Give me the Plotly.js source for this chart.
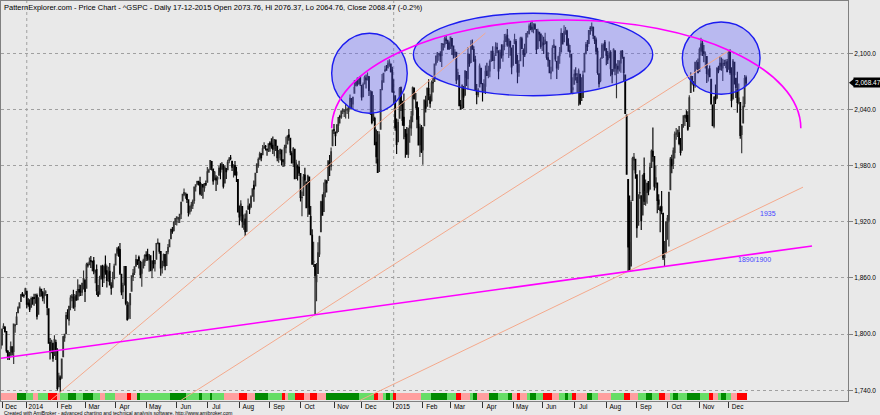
<!DOCTYPE html>
<html><head><meta charset="utf-8">
<script src="https://cdn.plot.ly/plotly-3.0.1.min.js"></script>
<style>html,body{margin:0;padding:0;background:#e9e9e9}#chart{width:880px;height:415px}</style>
</head><body><div id="chart"></div>
<script>
// ---------- DATA ----------
const monthLabels = ['Dec','2014','Feb','Mar','Apr','May','Jun','Jul','Aug','Sep','Oct','Nov','Dec','2015','Feb','Mar','Apr','May','Jun','Jul','Aug','Sep','Oct','Nov','Dec'];
const monthBars   = [21,21,19,21,21,21,21,22,21,21,23,19,22,20,19,22,21,20,22,22,21,21,22,20,13];

const open = [
1806.55,1800.10,1794.08,1792.82,1788.36,1806.21,1807.60,1802.76,1781.71,1776.02,1777.48,1786.47,1781.46,1809.00,1810.39,1822.92,1828.02,1834.96,1842.97,1841.47,1842.61,
1845.86,1833.21,1832.31,1828.71,1837.90,1839.00,1840.06,1841.26,1821.36,1840.52,1847.99,1844.23,1841.05,1844.71,1842.29,1826.96,1791.03,1783.00,1790.15,1777.17,1790.88,
1782.68,1743.82,1753.38,1752.99,1776.01,1796.20,1800.45,1820.12,1814.82,1828.46,1839.03,1838.90,1829.24,1841.07,1836.78,1847.66,1845.79,1844.90,1855.12,
1857.68,1849.23,1874.05,1874.18,1878.52,1877.86,1878.26,1866.15,1869.06,1845.07,1842.81,1858.92,1872.25,1860.09,1874.53,1867.67,1859.48,1867.09,1852.11,1850.07,1859.16,
1873.96,1886.61,1891.43,1890.25,1863.92,1845.48,1852.64,1872.28,1830.65,1818.18,1831.45,1846.01,1861.73,1865.79,1872.57,1879.32,1881.97,1877.72,1865.00,1870.78,1877.10,
1884.39,1885.30,1879.45,1883.69,1868.53,1877.39,1875.27,1880.03,1896.75,1897.13,1888.16,1871.19,1876.66,1884.88,1873.34,1888.19,1893.32,1902.01,1911.77,1910.60,1920.33,
1923.87,1923.07,1923.06,1928.52,1942.41,1948.97,1950.34,1949.37,1943.35,1930.80,1934.84,1937.15,1942.73,1957.50,1960.45,1962.92,1961.97,1949.27,1959.89,1956.56,1960.79,
1962.29,1973.06,1975.88,1984.22,1976.39,1965.10,1966.67,1965.76,1969.86,1977.36,1976.35,1979.75,1961.54,1976.93,1975.65,1985.32,1988.07,1984.60,1978.25,1980.03,1973.21,1965.14,
1929.80,1926.62,1936.34,1917.29,1923.03,1910.35,1933.43,1935.73,1935.60,1947.41,1958.87,1958.36,1972.73,1980.46,1986.82,1992.60,1991.74,1998.59,2000.54,1997.42,1998.45,
2004.07,2003.57,2001.67,1998.00,2007.17,2000.73,1988.41,1992.85,1996.74,1986.04,1981.93,1999.30,2003.07,2012.74,2009.08,1992.78,1983.34,1997.32,1966.22,1978.96,1978.21,
1971.44,1945.83,1948.12,1970.01,1962.36,1935.55,1967.68,1925.63,1905.65,1877.11,1874.18,1855.95,1864.91,1885.62,1909.38,1941.29,1931.02,1951.59,1962.97,1964.14,1983.29,1979.49,2001.20,
2018.21,2015.81,2015.29,2023.33,2032.36,2032.01,2038.20,2037.75,2039.21,2039.74,2038.29,2041.48,2051.16,2045.87,2057.46,2065.07,2070.15,2067.36,2074.78,
2065.78,2053.77,2067.45,2073.64,2072.78,2074.84,2056.55,2058.86,2027.92,2030.36,2005.03,1986.71,1973.77,2018.98,2061.04,2069.28,2081.48,2083.25,2084.30,2087.63,2088.49,2082.11,
2058.90,2054.44,2022.15,2005.55,2030.61,2063.45,2046.13,2031.58,2018.40,2013.75,1992.25,2020.76,2020.19,2034.30,2062.98,2050.42,2047.86,2032.34,2002.45,2019.35,
1996.67,2022.71,2048.86,2043.45,2062.28,2053.47,2049.38,2068.55,2069.98,2088.78,2096.47,2099.16,2099.25,2097.65,2109.83,2109.10,2115.30,2113.91,2110.88,
2105.23,2115.76,2107.72,2098.54,2100.91,2072.25,2076.14,2044.69,2041.10,2064.56,2055.35,2080.59,2072.84,2098.69,2090.32,2107.99,2103.94,2093.10,2059.94,2055.78,2064.11,2084.05,
2067.63,2060.03,2064.87,2080.79,2076.94,2081.29,2091.51,2102.03,2092.28,2097.82,2105.96,2102.58,2084.11,2102.82,2098.27,2107.21,2112.80,2119.29,2108.35,2112.49,2105.52,
2087.38,2110.23,2112.63,2091.26,2079.96,2092.13,2115.56,2102.87,2099.62,2100.43,2122.07,2121.30,2129.45,2127.79,2125.55,2130.36,2125.34,2105.13,2122.27,2120.66,
2108.64,2110.41,2110.64,2112.35,2095.09,2092.34,2079.07,2081.12,2106.24,2107.43,2091.34,2084.26,2097.40,2101.58,2121.06,2112.50,2123.16,2123.65,2109.96,2102.62,2098.63,2061.19,
2067.00,2078.03,2073.95,2069.52,2077.66,2049.73,2052.74,2080.03,2099.72,2109.25,2110.55,2126.80,2126.85,2127.55,2118.21,2114.16,2102.24,2078.19,2070.75,2094.70,2106.78,2111.60,
2104.49,2097.68,2095.27,2100.75,2082.61,2080.98,2102.66,2081.10,2086.19,2083.15,2089.70,2101.99,2095.69,2076.61,2034.08,1965.15,1898.08,1872.75,1942.77,1986.06,1986.73,
1970.09,1916.52,1950.79,1947.76,1927.30,1971.45,1941.59,1951.45,1963.06,1955.10,1978.02,1995.33,1989.66,1960.84,1961.39,1943.24,1934.81,1935.93,1929.18,1881.90,1887.14,
1919.65,1921.77,1954.33,1986.63,1982.34,1994.01,2013.73,2015.65,2015.00,2003.66,1996.47,2024.37,2031.73,2033.13,2033.47,2021.88,2058.19,2075.08,2068.75,2066.48,2088.35,2090.00,
2080.76,2102.63,2110.60,2101.68,2098.60,2096.56,2077.19,2083.41,2072.29,2044.64,2022.08,2053.67,2051.99,2083.70,2082.82,2089.41,2084.42,2089.30,2088.82,2090.95,
2082.93,2101.71,2080.71,2051.24,2090.42,2073.39,2061.17,2047.93,2047.27,2013.37,2025.55,2046.50,2073.76];

const high = [
1810.02,1800.10,1799.80,1792.82,1806.04,1811.52,1808.52,1802.97,1782.99,1780.92,1792.22,1786.77,1811.08,1810.88,1823.75,1829.75,1833.32,1842.84,1844.89,1842.47,1849.44,
1845.86,1838.24,1837.16,1840.10,1840.02,1843.23,1843.15,1843.45,1839.26,1850.84,1847.99,1846.04,1849.31,1846.87,1842.29,1826.96,1795.98,1793.87,1790.15,1798.77,1793.88,
1784.83,1758.73,1755.79,1774.06,1798.03,1799.94,1823.54,1826.55,1830.25,1841.65,1842.87,1847.50,1842.79,1846.13,1858.71,1852.91,1852.65,1854.53,1867.92,
1857.68,1876.23,1876.53,1881.94,1883.57,1877.87,1882.35,1868.38,1874.40,1852.44,1862.30,1873.76,1874.14,1873.49,1883.97,1873.34,1871.87,1875.92,1855.55,1866.63,1875.18,
1885.84,1893.17,1893.80,1897.28,1864.04,1854.95,1872.43,1872.53,1835.07,1834.19,1844.02,1862.31,1869.63,1871.89,1884.89,1879.75,1884.06,1877.72,1877.01,1880.60,1885.20,
1888.59,1891.33,1885.51,1883.69,1878.83,1889.07,1878.57,1897.13,1902.17,1897.13,1888.16,1878.28,1886.00,1884.88,1888.80,1896.33,1901.26,1912.28,1914.46,1920.03,1924.03,
1925.88,1925.07,1928.63,1941.74,1949.44,1955.55,1950.86,1949.37,1943.35,1937.30,1941.15,1943.69,1957.74,1959.87,1963.91,1963.74,1968.17,1960.83,1959.89,1961.47,1964.24,
1978.58,1976.67,1985.59,1984.22,1976.39,1974.15,1969.84,1968.67,1979.85,1982.52,1983.94,1981.80,1979.91,1976.93,1986.24,1989.23,1991.39,1984.60,1981.52,1984.85,1978.90,1965.14,
1937.35,1942.92,1936.34,1927.91,1928.89,1932.38,1944.90,1939.65,1948.41,1955.23,1964.04,1971.99,1982.57,1988.57,1994.76,1993.54,2001.95,2005.04,2002.14,1998.55,2003.38,
2006.12,2009.28,2011.17,2007.71,2007.17,2001.01,1996.66,1997.65,1996.74,1987.18,2002.28,2010.74,2012.34,2019.26,2009.08,1995.41,1999.79,1997.32,1986.37,1981.28,1985.17,
1971.44,1952.32,1971.19,1977.84,1962.36,1970.36,1967.68,1936.98,1912.09,1898.71,1874.18,1876.01,1898.16,1905.03,1942.45,1949.31,1961.95,1965.27,1964.64,1985.05,1991.40,1999.40,2018.19,
2024.46,2015.98,2023.77,2031.61,2034.26,2038.70,2041.28,2040.33,2046.18,2042.22,2043.07,2056.08,2052.14,2053.84,2071.46,2070.17,2074.21,2073.29,2075.76,
2065.78,2068.77,2076.28,2077.34,2079.47,2075.78,2060.60,2058.86,2055.53,2032.25,2018.69,2016.89,2016.75,2061.23,2077.85,2078.76,2086.73,2087.56,2092.70,2093.55,2088.49,2085.58,
2072.36,2054.44,2030.25,2029.61,2064.08,2064.43,2049.30,2056.93,2018.40,2021.35,2020.46,2028.94,2038.29,2064.62,2062.98,2057.62,2047.86,2042.49,2024.64,2023.32,
2021.66,2050.30,2054.74,2063.55,2072.40,2056.16,2070.86,2073.48,2088.53,2097.03,2101.30,2100.23,2102.13,2110.61,2110.05,2117.94,2119.59,2113.91,2112.74,
2117.52,2115.76,2107.72,2104.25,2100.91,2083.49,2076.14,2050.08,2066.41,2064.56,2081.41,2080.59,2106.85,2098.69,2113.92,2114.86,2107.63,2097.43,2067.15,2062.83,2088.97,2084.05,
2067.63,2072.17,2086.99,2089.81,2086.69,2093.31,2102.61,2107.65,2098.62,2111.91,2111.30,2102.58,2103.94,2109.64,2109.98,2120.49,2120.92,2125.92,2116.04,2113.65,2105.52,
2108.41,2120.95,2115.24,2098.42,2092.90,2117.66,2117.69,2105.06,2110.19,2121.45,2123.89,2131.78,2133.02,2134.72,2132.21,2132.15,2125.34,2126.22,2122.27,2120.66,
2119.15,2117.59,2121.92,2112.89,2100.99,2093.01,2085.62,2108.50,2115.02,2107.43,2091.34,2097.40,2106.79,2126.65,2121.64,2129.87,2128.03,2125.10,2116.04,2108.92,2098.63,2074.28,
2082.78,2085.06,2078.61,2083.74,2077.66,2074.28,2081.31,2100.67,2111.98,2114.14,2124.42,2128.91,2132.82,2128.49,2118.51,2116.87,2106.01,2078.19,2095.60,2110.60,2110.48,2114.24,
2105.70,2102.51,2112.66,2103.32,2082.61,2105.35,2102.66,2089.06,2092.93,2092.45,2102.87,2103.47,2096.17,2076.61,2034.08,1965.15,1948.04,1943.09,1989.60,1993.48,1986.73,
1970.09,1948.91,1975.01,1947.76,1970.42,1988.63,1965.29,1961.05,1963.06,1983.19,1997.26,2020.86,1989.66,1979.64,1961.39,1949.52,1937.17,1952.89,1929.18,1899.48,1920.53,
1927.21,1951.36,1989.17,1991.62,1999.31,2016.50,2020.13,2018.66,2022.34,2009.56,2024.15,2033.54,2034.45,2039.12,2037.97,2055.20,2079.74,2075.14,2070.37,2090.35,2092.52,2094.32,
2106.20,2116.48,2114.59,2108.78,2101.91,2096.56,2083.67,2086.94,2072.29,2044.64,2053.22,2066.69,2085.31,2086.74,2097.06,2095.61,2094.12,2093.00,2093.29,2093.81,
2103.37,2104.27,2085.00,2093.84,2090.42,2073.85,2080.33,2067.65,2047.27,2022.92,2053.87,2076.72,2076.37];

const low = [
1798.60,1787.85,1779.09,1783.38,1788.36,1806.21,1801.75,1780.09,1772.28,1772.45,1777.48,1777.05,1767.99,1801.35,1810.25,1822.92,1828.02,1834.96,1839.81,1838.77,1842.41,
1827.74,1829.13,1823.73,1828.71,1831.40,1830.38,1832.43,1815.52,1821.36,1840.52,1840.30,1835.23,1832.38,1840.88,1820.06,1790.29,1772.88,1779.49,1770.45,1777.17,1772.26,
1739.66,1743.82,1737.92,1752.99,1776.01,1791.83,1800.41,1815.97,1809.22,1825.59,1835.01,1826.99,1824.58,1835.60,1836.78,1840.19,1840.66,1841.13,1847.67,
1834.44,1849.23,1871.11,1874.18,1870.56,1867.04,1863.88,1854.38,1841.86,1839.57,1842.81,1858.92,1850.35,1854.63,1863.46,1849.69,1855.96,1852.56,1842.11,1850.07,1859.16,
1873.96,1883.79,1882.65,1863.26,1841.48,1837.49,1852.38,1830.87,1814.36,1815.80,1816.29,1846.01,1856.72,1863.18,1872.57,1873.91,1870.24,1859.70,1850.61,1870.78,1872.69,
1878.04,1878.50,1866.77,1867.72,1859.79,1870.05,1867.02,1880.03,1896.06,1885.77,1862.36,1864.82,1872.42,1868.14,1873.34,1885.39,1893.32,1902.01,1907.30,1909.82,1916.64,
1915.98,1918.79,1918.60,1922.93,1942.41,1947.16,1944.64,1940.08,1925.78,1927.69,1930.91,1933.55,1939.29,1952.26,1959.17,1958.89,1948.34,1947.49,1944.69,1952.18,1958.22,
1962.29,1972.58,1975.88,1974.88,1959.46,1965.10,1952.86,1959.63,1969.86,1965.34,1975.67,1955.59,1960.82,1965.77,1975.65,1982.44,1985.79,1974.37,1967.31,1969.95,1962.42,1930.67,
1916.37,1921.20,1913.77,1911.45,1904.78,1909.01,1933.43,1928.29,1935.60,1947.41,1941.50,1958.36,1972.73,1977.68,1986.82,1984.76,1991.74,1998.59,1996.20,1990.52,1994.65,
1994.85,1998.14,1992.54,1990.10,1995.60,1984.61,1982.99,1985.93,1980.26,1978.48,1979.06,1993.29,2003.07,2006.59,1991.01,1982.77,1978.63,1965.99,1966.22,1964.04,1968.96,
1941.72,1926.03,1948.12,1958.43,1935.10,1925.25,1927.56,1906.05,1874.14,1871.79,1820.66,1835.02,1864.91,1882.30,1909.38,1926.83,1931.02,1946.27,1951.37,1964.14,1969.04,1974.75,2001.20,
2013.68,2001.01,2014.51,2015.86,2025.07,2030.17,2035.28,2031.95,2030.44,2035.20,2030.20,2041.48,2040.37,2040.49,2056.75,2065.07,2064.75,2066.62,2065.06,
2049.57,2053.77,2066.65,2062.34,2070.81,2054.27,2034.17,2024.26,2027.92,2002.33,1982.26,1972.56,1973.77,2018.98,2061.03,2069.28,2079.77,2081.86,2084.30,2085.75,2079.53,2057.94,
2046.04,2017.34,1992.44,2005.55,2030.61,2038.33,2022.58,2008.25,1988.44,1991.47,1988.12,2004.49,2012.04,2026.38,2050.54,2040.97,2019.91,2001.49,1989.18,1993.38,
1980.90,2022.71,2036.72,2043.45,2049.97,2041.88,2048.62,2057.99,2069.98,2086.70,2089.80,2092.15,2090.79,2085.44,2103.00,2105.87,2109.89,2103.76,2103.75,
2104.50,2098.26,2094.49,2095.22,2067.27,2072.21,2044.16,2039.69,2041.10,2041.17,2055.35,2065.08,2061.23,2085.56,2090.32,2104.42,2091.50,2061.05,2045.50,2052.96,2064.11,2067.04,
2048.38,2057.32,2056.52,2076.10,2073.30,2074.29,2091.51,2092.33,2083.24,2097.82,2100.02,2072.37,2084.11,2094.38,2091.05,2103.19,2112.80,2107.04,2094.89,2097.41,2077.59,
2087.38,2110.23,2088.46,2067.93,2074.99,2092.13,2104.58,2085.57,2096.04,2100.43,2116.81,2120.01,2124.50,2122.59,2121.42,2126.06,2099.18,2105.13,2112.86,2104.89,
2102.54,2099.14,2109.61,2093.23,2085.67,2079.11,2072.14,2081.12,2106.24,2091.33,2072.49,2082.10,2088.86,2101.58,2109.45,2112.50,2119.89,2108.58,2101.78,2095.38,2056.64,2056.32,
2067.00,2071.02,2058.40,2044.02,2044.66,2049.73,2052.74,2080.03,2099.72,2102.49,2110.55,2119.88,2123.66,2115.40,2110.00,2098.63,2077.09,2063.52,2069.09,2094.08,2094.97,2102.07,
2087.31,2088.60,2095.27,2075.53,2067.91,2080.98,2076.49,2052.09,2078.26,2080.61,2079.30,2094.14,2070.53,2035.73,1970.89,1867.01,1867.08,1872.75,1942.77,1975.19,1965.98,
1903.07,1916.52,1944.72,1911.21,1927.30,1937.88,1937.19,1939.19,1948.27,1954.30,1977.93,1984.03,1953.45,1955.80,1929.22,1932.57,1908.92,1928.09,1879.21,1871.91,1887.14,
1900.70,1893.70,1954.33,1971.99,1976.44,1987.53,2007.61,2010.55,2001.78,1990.73,1996.47,2020.46,2022.31,2026.61,2017.22,2021.88,2058.19,2066.53,2058.84,2063.11,2082.63,2079.34,
2080.76,2097.51,2096.98,2090.41,2083.74,2068.24,2069.91,2074.85,2045.66,2022.02,2019.94,2045.90,2051.99,2078.76,2082.82,2081.39,2070.29,2086.30,2084.13,2080.41,
2082.93,2077.11,2042.35,2051.24,2066.78,2052.32,2036.53,2045.67,2008.80,1993.26,2025.55,2042.43,2064.76];

const close = [
1800.90,1795.15,1792.81,1785.03,1805.09,1808.37,1802.62,1782.22,1775.50,1775.32,1786.54,1781.00,1810.65,1809.60,1818.32,1827.99,1833.32,1842.02,1841.40,1841.07,1848.36,
1831.98,1831.37,1826.77,1837.88,1837.49,1838.13,1842.37,1819.20,1838.88,1848.38,1845.89,1838.70,1843.80,1844.86,1828.46,1790.29,1781.56,1792.50,1774.20,1794.19,1782.59,
1741.89,1755.20,1751.64,1773.43,1797.02,1799.84,1819.75,1819.26,1829.83,1838.63,1840.76,1828.75,1839.78,1836.25,1847.61,1845.12,1845.16,1854.29,1859.45,
1845.73,1873.91,1873.81,1877.03,1878.04,1877.17,1867.63,1868.20,1846.34,1841.13,1858.83,1872.25,1860.77,1872.01,1866.52,1857.44,1865.62,1852.56,1849.04,1857.62,1872.34,
1885.52,1890.90,1888.77,1865.09,1845.04,1851.96,1872.18,1833.08,1815.69,1830.61,1842.98,1862.31,1864.85,1871.89,1879.55,1875.39,1878.61,1863.40,1869.43,1878.33,1883.95,
1883.68,1881.14,1884.66,1867.72,1878.21,1875.63,1878.48,1896.65,1897.45,1888.53,1870.85,1877.86,1885.08,1872.83,1888.03,1892.49,1900.53,1911.91,1909.78,1920.03,1923.57,
1924.97,1924.24,1927.88,1940.46,1949.44,1951.27,1950.79,1943.89,1930.11,1936.16,1937.78,1941.99,1956.98,1959.48,1962.87,1962.61,1949.98,1959.53,1957.22,1960.96,1960.23,
1973.32,1974.62,1985.44,1977.65,1963.71,1972.83,1964.68,1967.57,1977.10,1973.28,1981.57,1958.12,1978.22,1973.63,1983.53,1987.01,1987.98,1978.34,1978.91,1969.95,1970.07,1930.67,
1925.15,1938.99,1920.21,1920.24,1909.57,1931.59,1936.92,1933.75,1946.72,1955.18,1955.06,1971.74,1981.60,1986.51,1992.37,1988.40,1997.92,2000.02,2000.12,1996.74,2003.37,
2002.28,2000.72,1997.65,2007.71,2001.54,1988.44,1995.69,1997.45,1985.54,1984.13,1998.98,2001.57,2011.36,2010.40,1994.29,1982.77,1998.30,1965.99,1982.85,1977.80,1972.29,
1946.16,1946.17,1967.90,1964.82,1935.10,1968.89,1928.21,1906.13,1874.74,1877.70,1862.49,1862.76,1886.76,1904.01,1941.28,1927.11,1950.82,1964.58,1961.63,1985.05,1982.30,1994.65,2018.05,
2017.81,2012.10,2023.57,2031.21,2031.92,2038.26,2039.68,2038.25,2039.33,2039.82,2041.32,2051.80,2048.72,2052.75,2063.50,2069.41,2067.03,2072.83,2067.56,
2053.44,2066.55,2074.33,2071.92,2075.37,2060.31,2059.82,2026.14,2035.33,2002.33,1989.63,1972.74,2012.89,2061.23,2070.65,2078.54,2082.17,2081.88,2088.77,2090.57,2080.35,2058.90,
2058.20,2020.58,2002.61,2025.90,2062.14,2044.81,2028.26,2023.03,2011.27,1992.67,2019.42,2022.55,2032.12,2063.15,2051.82,2057.09,2029.55,2002.16,2021.25,1994.99,
2020.85,2050.03,2041.51,2062.52,2055.47,2046.74,2068.59,2068.53,2088.48,2096.99,2100.34,2099.68,2097.45,2110.30,2109.66,2115.48,2113.86,2110.74,2104.50,
2117.39,2107.78,2098.53,2101.04,2071.26,2079.43,2044.16,2040.24,2065.95,2053.40,2081.19,2074.28,2099.50,2089.27,2108.10,2104.42,2091.50,2061.05,2056.15,2061.02,2086.24,2067.89,
2059.69,2066.96,2080.62,2076.33,2081.90,2091.18,2102.06,2092.43,2095.84,2106.63,2104.99,2081.18,2100.40,2097.29,2107.96,2112.93,2117.69,2108.92,2114.76,2106.85,2085.51,
2108.29,2114.49,2089.46,2080.15,2088.00,2116.10,2105.33,2099.12,2098.48,2121.10,2122.73,2129.20,2127.83,2125.85,2130.82,2126.06,2104.20,2123.48,2120.79,2107.39,
2111.73,2109.60,2114.07,2095.84,2092.83,2079.28,2080.15,2105.20,2108.86,2094.11,2084.43,2096.29,2100.44,2121.24,2109.99,2122.85,2124.20,2108.58,2102.31,2101.49,2057.64,2063.11,
2077.42,2076.78,2068.76,2081.34,2046.68,2051.31,2076.62,2099.60,2108.95,2107.40,2124.29,2126.64,2128.28,2119.21,2114.15,2102.15,2079.65,2067.64,2093.25,2108.57,2108.63,2103.84,
2098.04,2093.32,2099.84,2083.56,2077.57,2104.18,2084.07,2086.05,2083.39,2091.54,2102.44,2096.92,2079.61,2035.73,1970.89,1893.21,1867.61,1940.51,1987.66,1988.87,1972.18,
1913.85,1948.86,1951.13,1921.22,1969.41,1942.04,1952.29,1961.05,1953.03,1978.09,1995.31,1990.20,1958.03,1966.97,1942.74,1938.76,1932.24,1931.34,1881.77,1884.09,1920.03,
1923.82,1951.36,1987.05,1979.92,1995.83,2013.43,2014.89,2017.46,2003.69,1994.24,2023.86,2033.11,2033.66,2030.77,2018.94,2052.51,2075.15,2071.18,2065.89,2090.35,2089.41,2079.36,
2104.05,2109.79,2102.31,2099.93,2099.20,2078.58,2081.72,2075.00,2045.97,2023.04,2053.19,2050.44,2083.58,2081.24,2089.17,2086.59,2089.14,2088.87,2090.11,2080.41,
2102.63,2079.51,2049.62,2091.69,2077.07,2063.59,2047.62,2052.23,2012.37,2021.94,2043.41,2073.07,2068.47];

// indicator ribbon: run-length states (P = light red, R = red, L = light green, D = dark green)
const stripState = "PDLPLRPLDLDLPLPRPDLDLDLDLPRPDLRPLRPRPDLRPLDLRPLDLRPLDPDLDPRPLDLRPLDLRPDLPLRPLDLRPLDLDLRPLDLPR";
const stripLen = [15,6,5,3,7,6,2,6,5,5, 7,5,3,7,8,3,4,2,21,11, 9,2,5,2,8,10,6,5,9,10, 2,2,5,6,4,5,6,23,10,3,
  3,2,3,2,2,17,7,11,6,4, 6,2,3,8,6,7,3,3,2,5, 2,4,5,6,5,4,2,3,3,7, 4,4,9,9,4,5,6,4,5,4, 3,2,4,6,9,6,3,3,2,4, 3,4,7];

// drawn studies: [barIndex, price] end points
const trendLines = [
  {from:[37.5,1729.4], to:[336.0,2121.6], color:'#f4a98c'},
  {from:[127.0,1729.4], to:[504.0,2103.6], color:'#f4a98c'},
  {from:[250.0,1729.4], to:[554.1,1957.0], color:'#f4a98c'},
  {from:[2.0,1773.9],  to:[560.3,1894.2], color:'#ff00ff', width:1.6}
];
const ellipses = [[230.4,282.3,2035.9,2121.4],[286.5,450.9,2054.7,2142.8],[471.2,524.6,2056.2,2133.5]];
const arc = {cx:391.5, cy:2019.9, rx:161.1, ry:115.7};
const levelLabels = [{text:'1935', x:530.1, y:1929.4},{text:'1890/1900', x:520.5, y:1879.2}];
const titleText = 'PatternExplorer.com - Price Chart - ^GSPC - Daily 17-12-2015 Open 2073.76, Hi 2076.37, Lo 2064.76, Close 2068.47 (-0.2%)';
const creditText = 'Created with AmiBroker - advanced charting and technical analysis software. http://www.amibroker.com';

// ---------- BUILD ----------
const N = close.length;
const xi = close.map((_, i) => i);
const xRange = [3.3, 585.0];
const monthStart = []; let acc = 0;
monthBars.forEach(n => { monthStart.push(acc); acc += n; });
const yearStarts = monthStart.filter((_, k) => /^\d{4}$/.test(monthLabels[k]));
// first label sits on the first visible bar
const tickPos = monthStart.map((v, k) => k === 0 ? Math.ceil(xRange[0]) : v);
const palette = {P:'#ff9f9f', R:'#ff0000', L:'#66dd66', D:'#008a00'};
const stripColors = [];
stripLen.forEach((n, k) => { for (let j = 0; j < n; j++) stripColors.push(palette[stripState[k]]); });

const traces = [
  {type:'candlestick', x:xi, open:open, high:high, low:low, close:close, xaxis:'x', yaxis:'y',
   increasing:{line:{color:'#333333', width:1.15}, fillcolor:'#8a8a8a'},
   decreasing:{line:{color:'#000000', width:1.15}, fillcolor:'#000000'},
   whiskerwidth:0, hoverinfo:'skip'},
  {type:'bar', x:xi.slice(0, stripColors.length), y:stripColors.map(() => 7), base:1, width:1,
   marker:{color:stripColors, line:{width:0}}, xaxis:'x', yaxis:'y2', hoverinfo:'skip'}
];

const shapes = [];
yearStarts.forEach(i => shapes.push({type:'line', xref:'x', yref:'paper', x0:i, x1:i, y0:0.02, y1:1,
  line:{color:'#a0a0a0', width:1, dash:'dot'}, layer:'below'}));
ellipses.forEach(e => shapes.push({type:'circle', xref:'x', yref:'y', x0:e[0], x1:e[1], y0:e[2], y1:e[3],
  fillcolor:'rgba(95,95,255,0.34)', line:{color:'#1c1cf0', width:1.4}, layer:'above'}));
trendLines.forEach(t => shapes.push({type:'line', xref:'x', yref:'y', x0:t.from[0], y0:t.from[1], x1:t.to[0], y1:t.to[1],
  line:{color:t.color, width:t.width || 1}, layer:'above'}));
{
  const k = 0.5523, a = arc;
  const p = (x, y) => x + ',' + y;
  const path = 'M ' + p(a.cx - a.rx, a.cy) +
    ' C ' + p(a.cx - a.rx, a.cy + k * a.ry) + ' ' + p(a.cx - k * a.rx, a.cy + a.ry) + ' ' + p(a.cx, a.cy + a.ry) +
    ' C ' + p(a.cx + k * a.rx, a.cy + a.ry) + ' ' + p(a.cx + a.rx, a.cy + k * a.ry) + ' ' + p(a.cx + a.rx, a.cy);
  shapes.push({type:'path', xref:'x', yref:'y', path:path, line:{color:'#ff00ff', width:1.6}, layer:'above'});
}
const last = close[N - 1];
shapes.push({type:'path', xref:'paper', yref:'y', xsizemode:'pixel', ysizemode:'pixel', xanchor:1, yanchor:last,
  path:'M 1,0 L 6,4 L 6,-4 Z', fillcolor:'#000', line:{width:0}});

const annotations = [
  {xref:'paper', yref:'paper', x:0, y:1, xanchor:'left', yanchor:'top', xshift:1, yshift:0, showarrow:false,
   text:titleText, font:{size:7.5, color:'#000'}},
  {xref:'paper', yref:'paper', x:0, y:0, xanchor:'left', yanchor:'top', xshift:1, yshift:-7, showarrow:false,
   text:creditText, font:{size:5, color:'#000'}},
  {xref:'paper', yref:'y', x:1, y:last, xanchor:'left', yanchor:'middle', xshift:5, showarrow:false,
   text:last.toLocaleString('en-US', {minimumFractionDigits:2}), bgcolor:'#000', borderpad:1,
   font:{size:6.5, color:'#fff'}}
];
levelLabels.forEach(l => annotations.push({xref:'x', yref:'y', x:l.x, y:l.y, showarrow:false, text:l.text,
  font:{size:7, color:'#4646ff'}}));

const layout = {
  width:880, height:415, margin:{l:1, r:32, t:1, b:14, pad:0},
  paper_bgcolor:'#e9e9e9', plot_bgcolor:'#e9e9e9', showlegend:false, hovermode:false,
  font:{family:'Liberation Sans, Arial, sans-serif', size:6.5, color:'#000'},
  bargap:0,
  xaxis:{range:xRange, tickmode:'array', tickvals:tickPos, ticktext:monthLabels,
    ticks:'outside', ticklen:6, tickwidth:1, tickcolor:'#333', ticklabelshift:9, ticklabelstandoff:-7,
    showgrid:false, zeroline:false, showline:true, linecolor:'#808080', mirror:true,
    rangeslider:{visible:false}, tickfont:{size:6.5}},
  yaxis:{range:[1728.57, 2155.86], side:'right', tick0:1740, dtick:60, tickformat:',.1f',
    ticks:'outside', ticklen:4, tickcolor:'#808080', showgrid:true, gridcolor:'#a0a0a0', griddash:'dot', gridwidth:1,
    zeroline:false, showline:true, linecolor:'#808080', mirror:true, tickfont:{size:6.5}},
  yaxis2:{overlaying:'y', range:[0, 400], visible:false},
  shapes:shapes, annotations:annotations
};
Plotly.newPlot('chart', traces, layout, {staticPlot:true, displayModeBar:false});
</script>
</body></html>
